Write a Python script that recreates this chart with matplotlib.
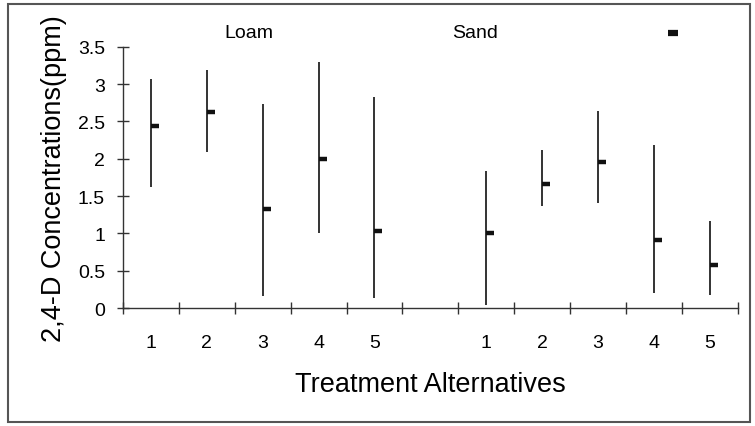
import matplotlib
matplotlib.use('Agg')
import matplotlib.pyplot as plt
from matplotlib.patches import Rectangle
import numpy as np

plt.rcParams['font.family'] = ['Liberation Sans', 'DejaVu Sans']

soils = ['Loam', 'Sand']
treatments = ['1', '2', '3', '4', '5']

loam_high = [3.07, 3.19, 2.73, 3.29, 2.82]
loam_low = [1.62, 2.09, 0.16, 1.00, 0.13]
loam_mean = [2.44, 2.62, 1.33, 2.00, 1.03]

sand_high = [1.84, 2.11, 2.64, 2.18, 1.17]
sand_low = [0.04, 1.37, 1.41, 0.20, 0.17]
sand_mean = [1.01, 1.66, 1.96, 0.91, 0.58]

high = loam_high + sand_high
low = loam_low + sand_low
mean = loam_mean + sand_mean
labels = treatments + treatments

# 11 slots, slot 5 left empty between the two soils
pos = np.array([0.5, 1.5, 2.5, 3.5, 4.5, 6.5, 7.5, 8.5, 9.5, 10.5])

fig = plt.figure(figsize=(7.55, 4.27), dpi=100)
ax = fig.add_axes([0.163, 0.2763, 0.814, 0.6120])

ax.vlines(pos, low, high, color='#111111', lw=1.2)
ax.plot(pos, mean, ls='none', marker=1, ms=6, mew=3.2, color='#111111')

ax.set_xlim(0, 11)
ax.set_ylim(0, 3.5)
ax.set_yticks([0, 0.5, 1, 1.5, 2, 2.5, 3, 3.5])
ax.set_yticklabels(['0', '0.5', '1', '1.5', '2', '2.5', '3', '3.5'])
ax.set_xticks(np.arange(0, 12))
ax.set_xticklabels([])
ax.set_xticks(pos, minor=True)
ax.set_xticklabels(labels, minor=True)
ax.tick_params(axis='x', which='major', direction='inout', length=8, width=1, color='#333333')
ax.tick_params(axis='x', which='minor', length=0, pad=19, labelsize=14)
ax.tick_params(axis='y', direction='inout', length=8, width=1, color='#333333',
               labelsize=14, pad=9)

for s in ['top', 'right']:
    ax.spines[s].set_visible(False)
for s in ['left', 'bottom']:
    ax.spines[s].set_color('#333333')
    ax.spines[s].set_linewidth(1)

ax.set_ylabel('2,4-D Concentrations(ppm)', fontsize=19.5, labelpad=8)
ax.set_xlabel('Treatment Alternatives', fontsize=19.5, labelpad=14)

ax.text(2.25, 1.056, soils[0], transform=ax.get_xaxis_transform(), fontsize=14,
        ha='center', va='center')
ax.text(6.3, 1.056, soils[1], transform=ax.get_xaxis_transform(), fontsize=14,
        ha='center', va='center')

# empty legend marker at the top right, as in the original
h, = ax.plot([], [], ls='none', marker='_', ms=7, mew=4.5, color='#111111')
leg = ax.legend([h], [''], loc='center', bbox_to_anchor=(0.895, 1.049),
                frameon=False, handlelength=0.6, handletextpad=0,
                borderpad=0, borderaxespad=0)

fig.patches.append(Rectangle((0.011, 0.01), 0.982, 0.978, transform=fig.transFigure,
                             fill=False, ec='#555555', lw=1.5))

fig.savefig('out.png', dpi=100)
